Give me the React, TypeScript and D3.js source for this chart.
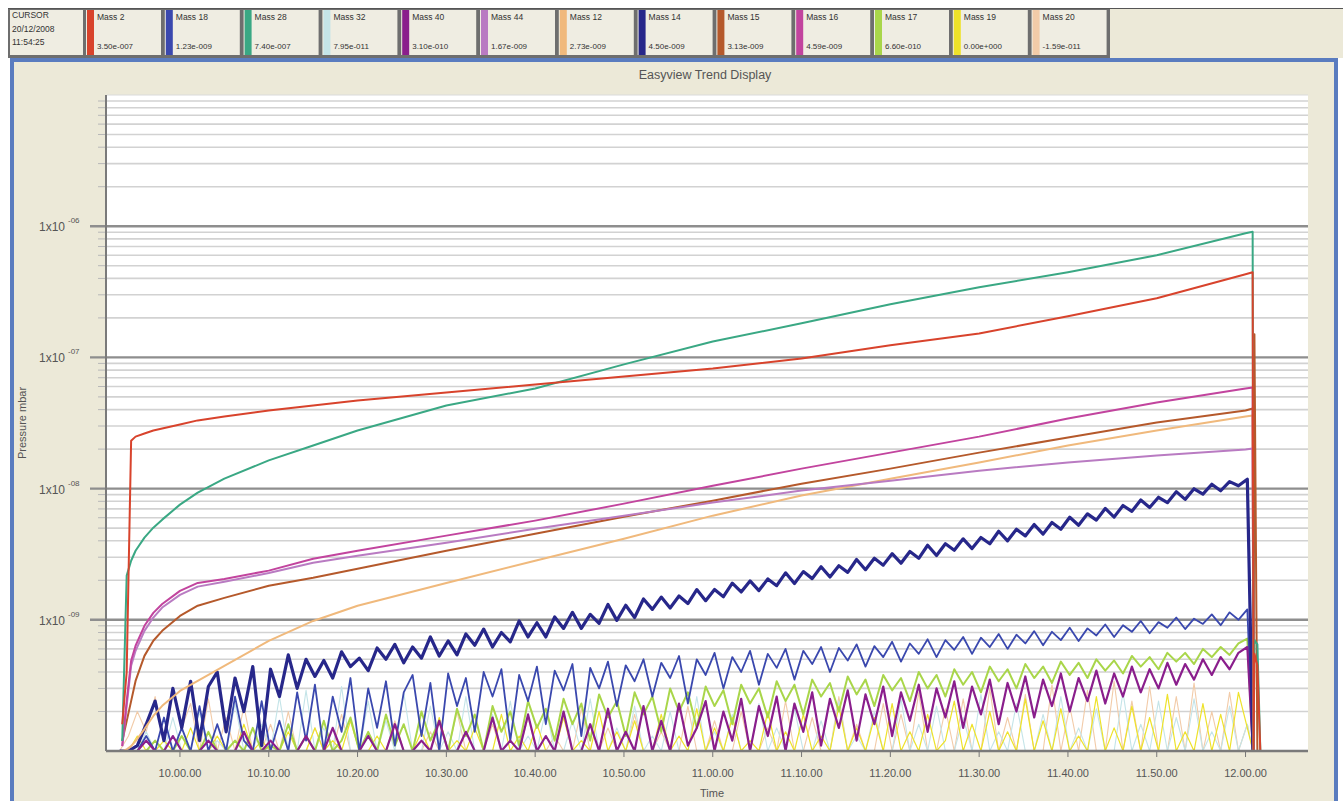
import React from "react";
import * as d3 from "d3";

// ---------- text ----------
const TITLE = "Easyview Trend Display";
const Y_LABEL = "Pressure mbar";
const X_LABEL = "Time";
const CURSOR_LINES = ["CURSOR", "20/12/2008", "11:54:25"];

// ---------- legend ----------
const LEGEND_NAMES = ["Mass 2", "Mass 18", "Mass 28", "Mass 32", "Mass 40", "Mass 44", "Mass 12", "Mass 14", "Mass 15", "Mass 16", "Mass 17", "Mass 19", "Mass 20"];
const LEGEND_VALUES = ["3.50e-007", "1.23e-009", "7.40e-007", "7.95e-011", "3.10e-010", "1.67e-009", "2.73e-009", "4.50e-009", "3.13e-009", "4.59e-009", "6.60e-010", "0.00e+000", "-1.59e-011"];
const LEGEND_COLORS = ["#d8432c", "#3a48ae", "#3aa884", "#c4e4e8", "#8a1e8c", "#b97bc2", "#f0b97c", "#27278a", "#b5592b", "#c2449e", "#a9d64a", "#eee22a", "#f2cba8"];

// ---------- axes ----------
const X_DOMAIN = ["09:51:47", "12:07:02"];
const Y_DOMAIN = [1e-10, 1e-5];
const X_TICKS = ["10:00:00", "10:10:00", "10:20:00", "10:30:00", "10:40:00", "10:50:00", "11:00:00", "11:10:00", "11:20:00", "11:30:00", "11:40:00", "11:50:00", "12:00:00"];

// ---------- smooth channels (mbar) ----------
const SMOOTH_TIMES = ["09:53:30", "09:54:00", "09:54:30", "09:55:00", "09:56:00", "09:57:00", "09:58:00", "10:00:00", "10:02:00", "10:05:00", "10:10:00", "10:15:00", "10:20:00", "10:30:00", "10:40:00", "10:50:00", "11:00:00", "11:10:00", "11:20:00", "11:30:00", "11:40:00", "11:50:00", "12:00:00", "12:00:48", "12:00:54", "12:01:00", "12:01:20", "12:01:40"];
const MASS_2 = [1.6e-10, 4.0e-10, 2.32e-8, 2.49e-8, 2.63e-8, 2.77e-8, 2.87e-8, 3.08e-8, 3.31e-8, 3.55e-8, 3.94e-8, 4.3e-8, 4.7e-8, 5.41e-8, 6.22e-8, 7.16e-8, 8.24e-8, 9.82e-8, 1.24e-7, 1.52e-7, 2.06e-7, 2.82e-7, 4.3e-7, 4.46e-7, 1e-10, 5.5e-10, 4.5e-10, 1e-10];
const MASS_28 = [1.19e-10, 2.17e-9, 2.82e-9, 3.36e-9, 4.23e-9, 5.04e-9, 5.8e-9, 7.55e-9, 9.31e-9, 1.19e-8, 1.64e-8, 2.13e-8, 2.77e-8, 4.3e-8, 5.8e-8, 8.85e-8, 1.32e-7, 1.82e-7, 2.54e-7, 3.42e-7, 4.46e-7, 6.01e-7, 8.85e-7, 9.06e-7, 1e-10, 7.0e-10, 6.5e-10, 1e-10];
const MASS_15 = [1.19e-10, 1.69e-10, 2.4e-10, 3.42e-10, 5.31e-10, 6.92e-10, 8.24e-10, 1.07e-9, 1.28e-9, 1.47e-9, 1.82e-9, 2.09e-9, 2.45e-9, 3.36e-9, 4.53e-9, 6.11e-9, 8.09e-9, 1.09e-8, 1.42e-8, 1.88e-8, 2.45e-8, 3.19e-8, 3.94e-8, 4.08e-8, 1e-10, 1.5e-7, 1e-10, 1e-10];
const MASS_12 = [9.8e-11, 1.03e-10, 1.09e-10, 1.19e-10, 1.47e-10, 1.85e-10, 2.21e-10, 2.87e-10, 3.42e-10, 4.46e-10, 6.9e-10, 9.8e-10, 1.28e-9, 1.91e-9, 2.82e-9, 4.15e-9, 6.22e-9, 8.85e-9, 1.19e-8, 1.58e-8, 2.13e-8, 2.77e-8, 3.55e-8, 3.61e-8, 1e-10, 1e-10, 1e-10, 1e-10];
const MASS_16 = [1.09e-10, 2.4e-10, 4.87e-10, 6.34e-10, 9.0e-10, 1.13e-9, 1.32e-9, 1.66e-9, 1.91e-9, 2.05e-9, 2.37e-9, 2.92e-9, 3.36e-9, 4.38e-9, 5.7e-9, 7.68e-9, 1.05e-8, 1.42e-8, 1.88e-8, 2.49e-8, 3.42e-8, 4.53e-8, 5.8e-8, 5.9e-8, 1e-10, 1e-10, 1e-10, 1e-10];
const MASS_44 = [1.09e-10, 2.21e-10, 4.46e-10, 5.8e-10, 8.24e-10, 1.04e-9, 1.24e-9, 1.55e-9, 1.79e-9, 1.95e-9, 2.27e-9, 2.72e-9, 3.08e-9, 3.87e-9, 4.95e-9, 6.22e-9, 7.82e-9, 9.66e-9, 1.15e-8, 1.37e-8, 1.58e-8, 1.79e-8, 1.99e-8, 2.02e-8, 1e-10, 1e-10, 1e-10, 1e-10];

// ---------- noisy channels, one sample per minute from NOISE_START (mbar) ----------
const NOISE_START = "09:53:12";
const NOISE_STEP_S = 60;
const DROP_TIME = "12:00:50";
const FLOOR = 1e-10;

const MASS_14 = [
  1e-10, 1e-10, 1.1e-10, 1.6e-10, 2.4e-10, 1.2e-10, 3.0e-10, 1.5e-10, 3.4e-10, 1.2e-10,
  3.1e-10, 4.0e-10, 1.4e-10, 3.6e-10, 2.0e-10, 4.4e-10, 1.1e-10, 4.2e-10, 2.6e-10, 5.4e-10,
  3.0e-10, 5.0e-10, 3.7e-10, 4.9e-10, 3.6e-10, 5.7e-10, 4.4e-10, 5.1e-10, 4.1e-10, 6.1e-10,
  5.0e-10, 6.5e-10, 4.7e-10, 6.2e-10, 5.1e-10, 7.4e-10, 5.3e-10, 6.9e-10, 5.4e-10, 7.8e-10,
  6.4e-10, 8.5e-10, 6.2e-10, 8.0e-10, 6.8e-10, 9.8e-10, 7.4e-10, 9.5e-10, 7.4e-10, 1.05e-9,
  8.6e-10, 1.14e-9, 8.6e-10, 1.1e-9, 9.4e-10, 1.31e-9, 9.9e-10, 1.29e-9, 1.04e-9, 1.44e-9,
  1.2e-9, 1.49e-9, 1.23e-9, 1.52e-9, 1.33e-9, 1.7e-9, 1.4e-9, 1.7e-9, 1.5e-9, 1.9e-9,
  1.63e-9, 1.98e-9, 1.67e-9, 2.05e-9, 1.82e-9, 2.28e-9, 1.89e-9, 2.33e-9, 2.06e-9, 2.54e-9,
  2.12e-9, 2.58e-9, 2.3e-9, 2.88e-9, 2.41e-9, 2.95e-9, 2.61e-9, 3.19e-9, 2.7e-9, 3.32e-9,
  2.94e-9, 3.7e-9, 3.09e-9, 3.8e-9, 3.39e-9, 4.14e-9, 3.49e-9, 4.24e-9, 3.8e-9, 4.73e-9,
  4.0e-9, 4.9e-9, 4.36e-9, 5.32e-9, 4.5e-9, 5.52e-9, 4.9e-9, 6.05e-9, 5.26e-9, 6.42e-9,
  5.75e-9, 7.06e-9, 6.07e-9, 7.43e-9, 6.71e-9, 8.18e-9, 7.18e-9, 8.59e-9, 7.81e-9, 9.48e-9,
  8.28e-9, 9.97e-9, 9.07e-9, 1.08e-8, 9.63e-9, 1.13e-8, 1.05e-8, 1.18e-8,
];
const MASS_18 = [
  1e-10, 1e-10, 1e-10, 1.3e-10, 1e-10, 1.8e-10, 1e-10, 1.5e-10, 1e-10, 2.2e-10,
  1e-10, 1.6e-10, 1e-10, 2.6e-10, 1.2e-10, 1e-10, 2.4e-10, 1e-10, 1.7e-10, 1e-10,
  2.8e-10, 1.2e-10, 3.2e-10, 1e-10, 2.6e-10, 1.4e-10, 3.6e-10, 1e-10, 3.0e-10, 1.5e-10,
  3.4e-10, 1.1e-10, 2.8e-10, 3.8e-10, 1.3e-10, 3.3e-10, 1e-10, 3.9e-10, 2.2e-10, 3.6e-10,
  1.4e-10, 4.0e-10, 2.6e-10, 4.2e-10, 1.2e-10, 3.8e-10, 2.4e-10, 4.4e-10, 1.6e-10, 4.1e-10,
  2.9e-10, 4.6e-10, 1.3e-10, 4.3e-10, 3.0e-10, 4.8e-10, 2.2e-10, 4.5e-10, 3.4e-10, 5.0e-10,
  2.6e-10, 4.7e-10, 3.6e-10, 5.3e-10, 2.3e-10, 5.0e-10, 3.8e-10, 5.6e-10, 3.0e-10, 5.2e-10,
  4.0e-10, 5.8e-10, 3.2e-10, 5.5e-10, 4.3e-10, 6.0e-10, 3.5e-10, 5.8e-10, 4.6e-10, 6.2e-10,
  4.0e-10, 6.1e-10, 4.9e-10, 6.5e-10, 4.4e-10, 6.3e-10, 5.2e-10, 6.8e-10, 4.8e-10, 6.6e-10,
  5.5e-10, 7.1e-10, 5.2e-10, 7.0e-10, 5.9e-10, 7.4e-10, 5.5e-10, 7.3e-10, 6.2e-10, 7.8e-10,
  6.0e-10, 7.7e-10, 6.6e-10, 8.2e-10, 6.4e-10, 8.1e-10, 7.0e-10, 8.7e-10, 6.9e-10, 8.6e-10,
  7.6e-10, 9.2e-10, 7.4e-10, 9.1e-10, 8.1e-10, 9.8e-10, 7.9e-10, 9.6e-10, 8.7e-10, 1.04e-9,
  8.5e-10, 1.02e-9, 9.3e-10, 1.1e-9, 9.1e-10, 1.14e-9, 1.0e-9, 1.2e-9,
];
const MASS_17 = [
  1e-10, 1e-10, 1e-10, 1e-10, 1.2e-10, 1e-10, 1e-10, 1.3e-10, 1e-10, 1e-10,
  1.4e-10, 1e-10, 1e-10, 1.2e-10, 1e-10, 1.5e-10, 1e-10, 1.1e-10, 1e-10, 1.6e-10,
  1e-10, 1.3e-10, 1e-10, 1.7e-10, 1e-10, 1.2e-10, 1.8e-10, 1e-10, 1.4e-10, 1e-10,
  1.9e-10, 1.1e-10, 1.6e-10, 1e-10, 2.0e-10, 1.2e-10, 1.7e-10, 1e-10, 2.1e-10, 1.3e-10,
  1.9e-10, 1e-10, 2.2e-10, 1.4e-10, 2.0e-10, 1.1e-10, 2.4e-10, 1.5e-10, 2.1e-10, 1.2e-10,
  2.5e-10, 1.6e-10, 2.3e-10, 1.2e-10, 2.7e-10, 1.8e-10, 2.4e-10, 1.3e-10, 2.8e-10, 1.9e-10,
  2.6e-10, 1.4e-10, 3.0e-10, 2.0e-10, 2.8e-10, 1.5e-10, 3.1e-10, 2.2e-10, 2.9e-10, 1.6e-10,
  3.2e-10, 2.3e-10, 3.0e-10, 1.8e-10, 3.4e-10, 2.4e-10, 3.2e-10, 1.9e-10, 3.5e-10, 2.6e-10,
  3.3e-10, 2.0e-10, 3.7e-10, 2.7e-10, 3.5e-10, 2.2e-10, 3.8e-10, 2.9e-10, 3.6e-10, 2.4e-10,
  4.0e-10, 3.0e-10, 3.8e-10, 2.6e-10, 4.2e-10, 3.2e-10, 4.0e-10, 2.8e-10, 4.4e-10, 3.4e-10,
  4.2e-10, 3.0e-10, 4.6e-10, 3.6e-10, 4.4e-10, 3.3e-10, 4.8e-10, 3.8e-10, 4.7e-10, 3.6e-10,
  5.0e-10, 4.1e-10, 4.9e-10, 3.9e-10, 5.3e-10, 4.4e-10, 5.2e-10, 4.2e-10, 5.6e-10, 4.8e-10,
  5.6e-10, 4.6e-10, 6.0e-10, 5.2e-10, 6.2e-10, 5.4e-10, 6.6e-10, 7.2e-10,
];
const MASS_40 = [
  1e-10, 1e-10, 1e-10, 1.2e-10, 1e-10, 1e-10, 1.3e-10, 1e-10, 1e-10, 1e-10,
  1.2e-10, 1e-10, 1e-10, 1e-10, 1.4e-10, 1e-10, 1e-10, 1.2e-10, 1e-10, 1e-10,
  1e-10, 1.3e-10, 1e-10, 1e-10, 1.5e-10, 1e-10, 1e-10, 1e-10, 1.3e-10, 1e-10,
  1e-10, 1.6e-10, 1e-10, 1e-10, 1.2e-10, 1e-10, 1.7e-10, 1e-10, 1e-10, 1.4e-10,
  1e-10, 1e-10, 1.8e-10, 1e-10, 1.2e-10, 1e-10, 1.9e-10, 1e-10, 1.3e-10, 1e-10,
  2.0e-10, 1e-10, 1e-10, 1.6e-10, 1e-10, 2.1e-10, 1e-10, 1.4e-10, 1e-10, 2.2e-10,
  1e-10, 1.7e-10, 1e-10, 2.3e-10, 1.1e-10, 1.5e-10, 2.4e-10, 1e-10, 2.0e-10, 1.2e-10,
  2.5e-10, 1e-10, 2.2e-10, 1.3e-10, 2.6e-10, 1e-10, 2.3e-10, 1.4e-10, 2.8e-10, 1.1e-10,
  2.5e-10, 1.5e-10, 2.9e-10, 1.2e-10, 2.7e-10, 1.6e-10, 3.1e-10, 1.3e-10, 2.8e-10, 1.7e-10,
  3.2e-10, 1.4e-10, 3.0e-10, 1.8e-10, 3.4e-10, 1.5e-10, 3.1e-10, 1.9e-10, 3.5e-10, 1.6e-10,
  3.3e-10, 2.0e-10, 3.7e-10, 1.8e-10, 3.5e-10, 2.2e-10, 3.9e-10, 2.0e-10, 3.6e-10, 2.4e-10,
  4.1e-10, 2.3e-10, 3.9e-10, 2.6e-10, 4.4e-10, 2.8e-10, 4.2e-10, 3.0e-10, 4.7e-10, 3.2e-10,
  4.6e-10, 3.5e-10, 5.0e-10, 3.8e-10, 5.2e-10, 4.2e-10, 5.6e-10, 6.2e-10,
];
const MASS_19 = [
  1e-10, 1e-10, 1.3e-10, 1e-10, 1e-10, 1.2e-10, 1e-10, 1e-10, 1.5e-10, 1e-10,
  1e-10, 1.3e-10, 1e-10, 1e-10, 1.6e-10, 1e-10, 1.2e-10, 1e-10, 1e-10, 1.4e-10,
  1e-10, 1e-10, 1.5e-10, 1e-10, 1.2e-10, 1e-10, 1.7e-10, 1e-10, 1e-10, 1.3e-10,
  1e-10, 1.6e-10, 1e-10, 1e-10, 1.4e-10, 1e-10, 1.8e-10, 1e-10, 1.2e-10, 1e-10,
  1.5e-10, 1e-10, 1e-10, 1.9e-10, 1e-10, 1.3e-10, 1e-10, 1.6e-10, 1e-10, 1e-10,
  1.8e-10, 1e-10, 1.2e-10, 1e-10, 2.0e-10, 1e-10, 1.4e-10, 1e-10, 1.7e-10, 1e-10,
  1e-10, 1.9e-10, 1e-10, 1.3e-10, 1e-10, 2.1e-10, 1e-10, 1.5e-10, 1e-10, 1.8e-10,
  1e-10, 1.2e-10, 1e-10, 2.0e-10, 1e-10, 1.4e-10, 1e-10, 1.9e-10, 1e-10, 1.3e-10,
  1e-10, 2.2e-10, 1e-10, 1.5e-10, 1e-10, 1.8e-10, 1e-10, 2.3e-10, 1e-10, 1.4e-10,
  1e-10, 1.9e-10, 1e-10, 1.2e-10, 2.4e-10, 1e-10, 1.6e-10, 1e-10, 2.0e-10, 1e-10,
  1.4e-10, 1e-10, 2.5e-10, 1e-10, 1.7e-10, 1e-10, 2.1e-10, 1e-10, 1.3e-10, 1e-10,
  2.6e-10, 1e-10, 1.5e-10, 1e-10, 2.2e-10, 1e-10, 1.8e-10, 1e-10, 2.7e-10, 1e-10,
  1.4e-10, 1e-10, 2.3e-10, 1e-10, 1.9e-10, 1e-10, 2.8e-10, 1.5e-10,
];
const MASS_32 = [
  1e-10, 1e-10, 1e-10, 1.4e-10, 1e-10, 1e-10, 1.8e-10, 1e-10, 1e-10, 2.0e-10,
  1e-10, 1.2e-10, 1e-10, 2.3e-10, 1e-10, 1e-10, 1.6e-10, 1e-10, 2.6e-10, 1e-10,
  1e-10, 2.9e-10, 1e-10, 1.5e-10, 1e-10, 3.1e-10, 1e-10, 1e-10, 2.4e-10, 1e-10,
  1.7e-10, 1e-10, 2.8e-10, 1e-10, 1e-10, 2.2e-10, 1e-10, 1.4e-10, 1e-10, 2.6e-10,
  1e-10, 1e-10, 1.9e-10, 1e-10, 2.4e-10, 1e-10, 1.3e-10, 1e-10, 2.1e-10, 1e-10,
  1e-10, 1.7e-10, 1e-10, 2.5e-10, 1e-10, 1e-10, 1.5e-10, 1e-10, 2.2e-10, 1e-10,
  1.3e-10, 1e-10, 2.0e-10, 1e-10, 1e-10, 2.6e-10, 1e-10, 1.4e-10, 1e-10, 1.9e-10,
  1e-10, 1e-10, 2.3e-10, 1e-10, 1.5e-10, 1e-10, 2.1e-10, 1e-10, 1e-10, 1.7e-10,
  1e-10, 2.4e-10, 1e-10, 1.3e-10, 1e-10, 2.0e-10, 1e-10, 1e-10, 2.5e-10, 1e-10,
  1.6e-10, 1e-10, 2.2e-10, 1e-10, 1e-10, 1.8e-10, 1e-10, 2.7e-10, 1e-10, 1.4e-10,
  1e-10, 2.3e-10, 1e-10, 1e-10, 1.9e-10, 1e-10, 2.6e-10, 1e-10, 1.5e-10, 1e-10,
  2.1e-10, 1e-10, 1e-10, 2.8e-10, 1e-10, 1.6e-10, 1e-10, 2.4e-10, 1e-10, 1.8e-10,
  1e-10, 2.5e-10, 1e-10, 1.4e-10, 1e-10, 2.2e-10, 1e-10, 1.6e-10,
];
const MASS_20 = [
  1e-10, 1.3e-10, 2.0e-10, 1.4e-10, 2.6e-10, 1.2e-10, 2.8e-10, 1.5e-10, 2.3e-10, 1e-10,
  2.5e-10, 1e-10, 1.8e-10, 1e-10, 2.2e-10, 1e-10, 1e-10, 1.6e-10, 1e-10, 2.0e-10,
  1e-10, 1e-10, 1.5e-10, 1e-10, 1e-10, 1.9e-10, 1e-10, 1e-10, 1.3e-10, 1e-10,
  1e-10, 1.7e-10, 1e-10, 1e-10, 1e-10, 1.4e-10, 1e-10, 1e-10, 2.0e-10, 1e-10,
  1e-10, 1e-10, 1.6e-10, 1e-10, 1e-10, 1e-10, 1.8e-10, 1e-10, 1e-10, 1.3e-10,
  1e-10, 1e-10, 2.1e-10, 1e-10, 1e-10, 1.5e-10, 1e-10, 1e-10, 1.9e-10, 1e-10,
  1e-10, 1.4e-10, 1e-10, 1e-10, 2.2e-10, 1e-10, 1e-10, 1.7e-10, 1e-10, 1e-10,
  2.0e-10, 1e-10, 1e-10, 1.5e-10, 1e-10, 2.4e-10, 1e-10, 1e-10, 1.8e-10, 1e-10,
  1e-10, 2.6e-10, 1e-10, 1.6e-10, 1e-10, 1e-10, 2.3e-10, 1e-10, 1.9e-10, 1e-10,
  2.8e-10, 1e-10, 1e-10, 2.1e-10, 1e-10, 2.5e-10, 1e-10, 1e-10, 3.0e-10, 1e-10,
  1.8e-10, 1e-10, 2.7e-10, 1e-10, 1e-10, 3.2e-10, 1e-10, 2.2e-10, 1e-10, 2.9e-10,
  1e-10, 1e-10, 3.4e-10, 1e-10, 2.4e-10, 1e-10, 3.1e-10, 1e-10, 1e-10, 2.6e-10,
  1e-10, 3.3e-10, 1e-10, 2.0e-10, 1e-10, 2.8e-10, 1e-10, 1.6e-10,
];

// ---------- layout ----------
const W = 1343;
const H = 801;
const PL = 107, PR = 1308, PT = 95, PB = 751;
const FONT = "'Liberation Sans', Arial, sans-serif";

type Pt = [Date, number];

export default function App() {
  const parse = d3.timeParse("%H:%M:%S");
  const p = (s: string) => parse(s) as Date;

  const x = d3.scaleTime().domain(X_DOMAIN.map(p)).range([PL, PR]);
  const y = d3.scaleLog().domain(Y_DOMAIN).range([PB, PT]);
  const yv = (v: number) => y(Math.min(Math.max(v, Y_DOMAIN[0]), Y_DOMAIN[1]));
  const line = d3.line<Pt>().x((d) => x(d[0])).y((d) => yv(d[1]));

  const smoothTimes = SMOOTH_TIMES.map(p);
  const smooth = (vals: number[]): Pt[] => vals.map((v, i) => [smoothTimes[i], v]);
  const start = p(NOISE_START);
  const drop = p(DROP_TIME);
  const noisy = (vals: number[]): Pt[] => [
    ...vals.map((v, i) => [d3.timeSecond.offset(start, i * NOISE_STEP_S), v] as Pt),
    [drop, FLOOR],
  ];

  const col = (name: string) => LEGEND_COLORS[LEGEND_NAMES.indexOf(name)];

  // draw order, back to front
  const series = [
    { name: "Mass 20", pts: noisy(MASS_20), w: 1.1 },
    { name: "Mass 32", pts: noisy(MASS_32), w: 1.1 },
    { name: "Mass 19", pts: noisy(MASS_19), w: 1.2 },
    { name: "Mass 17", pts: noisy(MASS_17), w: 2 },
    { name: "Mass 18", pts: noisy(MASS_18), w: 1.8 },
    { name: "Mass 40", pts: noisy(MASS_40), w: 2.2 },
    { name: "Mass 14", pts: noisy(MASS_14), w: 3.2 },
    { name: "Mass 12", pts: smooth(MASS_12), w: 2 },
    { name: "Mass 15", pts: smooth(MASS_15), w: 2 },
    { name: "Mass 44", pts: smooth(MASS_44), w: 2 },
    { name: "Mass 16", pts: smooth(MASS_16), w: 2 },
    { name: "Mass 28", pts: smooth(MASS_28), w: 2 },
    { name: "Mass 2", pts: smooth(MASS_2), w: 2 },
  ];

  const yTicks = y.ticks();
  const isMajor = (v: number) => Math.abs(Math.log10(v) - Math.round(Math.log10(v))) < 1e-6;
  const minor = yTicks.filter((v) => !isMajor(v));
  const major = yTicks.filter((v) => isMajor(v) && v > Y_DOMAIN[0] && v < Y_DOMAIN[1]);
  const xTicks = X_TICKS.map(p);
  const fmtX = d3.timeFormat("%H.%M.%S");

  const LEG_X0 = 86;
  const LEG_PITCH = 78.8;
  const LEG_W = 75;

  return (
    <div style={{ position: "absolute", left: 0, top: 0 }}>
      <svg width={W} height={H} style={{ display: "block", fontFamily: FONT }}>
        <defs>
          <clipPath id="plotClip">
            <rect x={PL} y={PT} width={PR - PL} height={PB - PT} />
          </clipPath>
        </defs>
        <rect x={0} y={0} width={W} height={H} fill="#ffffff" />

        {/* legend strip */}
        <rect x={8} y={8} width={W - 8} height={50} fill="#ece9d8" />
        <rect x={8} y={8} width={1102} height={50} fill="#6e6e6e" />
        <line x1={8} x2={W} y1={8.5} y2={8.5} stroke="#555" strokeWidth={1} />
        <rect x={10} y={10} width={73} height={45} fill="#efede2" />
        {CURSOR_LINES.map((t, i) => (
          <text key={t} x={12} y={18 + i * 13.5} fontSize={8.5} fill="#333">{t}</text>
        ))}
        {LEGEND_NAMES.map((n, i) => {
          const bx = LEG_X0 + i * LEG_PITCH;
          return (
            <g key={n}>
              <rect x={bx} y={10} width={LEG_W} height={45} fill="#efede2" />
              <rect x={bx + 1} y={10} width={7} height={45} fill={LEGEND_COLORS[i]} />
              <text x={bx + 11} y={20} fontSize={8.5} fill="#333">{n}</text>
              <text x={bx + 11} y={49} fontSize={8} fill="#333">{LEGEND_VALUES[i]}</text>
            </g>
          );
        })}

        {/* main panel */}
        <rect x={12} y={60} width={1324} height={H} fill="#ece9d8" stroke="#5a7cbf" strokeWidth={4} />

        <text x={705} y={79} fontSize={12.5} fill="#555" textAnchor="middle">{TITLE}</text>

        {/* plot area */}
        <rect x={PL} y={PT} width={PR - PL} height={PB - PT} fill="#ffffff" />
        {minor.map((v) => (
          <g key={"mi" + v}>
            <line x1={PL} x2={PR} y1={y(v)} y2={y(v)} stroke="#d2d2d2" strokeWidth={1.6} />
            <line x1={98} x2={PL} y1={y(v)} y2={y(v)} stroke="#b8b8b8" strokeWidth={1} />
          </g>
        ))}
        {major.map((v) => (
          <line key={"ma" + v} x1={90} x2={PR} y1={y(v)} y2={y(v)} stroke="#8e8e8e" strokeWidth={2.4} />
        ))}
        <line x1={PL} x2={PR} y1={PT} y2={PT} stroke="#dadada" strokeWidth={1} />

        <g clipPath="url(#plotClip)">
          {series.map((s) => (
            <path
              key={s.name}
              d={line(s.pts) || ""}
              fill="none"
              stroke={col(s.name)}
              strokeWidth={s.w}
              strokeLinejoin="round"
            />
          ))}
        </g>

        {/* axes */}
        <line x1={PL - 1} x2={PL - 1} y1={PT} y2={PB} stroke="#7a7a7a" strokeWidth={2} />
        <line x1={PL - 1} x2={PR} y1={PB} y2={PB} stroke="#7a7a7a" strokeWidth={2.5} />
        {xTicks.map((t) => (
          <g key={t.getTime()}>
            <line x1={x(t)} x2={x(t)} y1={PB} y2={PB + 6} stroke="#777" strokeWidth={1} />
            <text x={x(t)} y={777} fontSize={11} fill="#555" textAnchor="middle">{fmtX(t)}</text>
          </g>
        ))}
        {major.map((v) => {
          const e = Math.round(Math.log10(v));
          const sup = (e < 0 ? "-" : "") + String(Math.abs(e)).padStart(2, "0");
          return (
            <g key={"lab" + v}>
              <text x={65} y={y(v) + 5} fontSize={12} fill="#555" textAnchor="end">1x10</text>
              <text x={68} y={y(v) - 3} fontSize={8} fill="#555">{sup}</text>
            </g>
          );
        })}
        <text x={712} y={797} fontSize={11} fill="#555" textAnchor="middle">{X_LABEL}</text>
        <text
          transform={`translate(26, ${(PT + PB) / 2}) rotate(-90)`}
          fontSize={11}
          fill="#555"
          textAnchor="middle"
        >
          {Y_LABEL}
        </text>
      </svg>
    </div>
  );
}
